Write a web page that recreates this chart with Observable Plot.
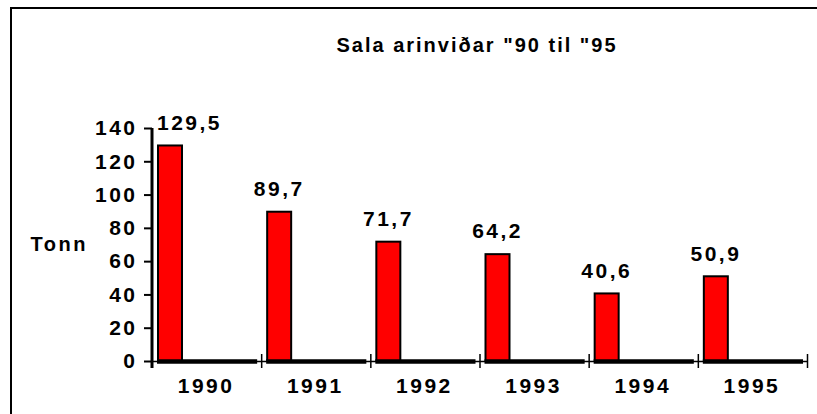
<!DOCTYPE html>
<html>
<head>
<meta charset="utf-8">
<script src="https://cdn.jsdelivr.net/npm/d3@7"></script>
<script src="https://cdn.jsdelivr.net/npm/@observablehq/plot@0.6"></script>
<style>
html, body { margin: 0; padding: 0; background: #fff; overflow: hidden; width: 817px; height: 414px; }
#wrap { position: relative; width: 817px; height: 414px; overflow: hidden; }
#border { position: absolute; left: 10px; top: 7px; width: 900px; height: 500px; border-left: 2px solid #000; border-top: 2px solid #000; }
#title { position: absolute; left: 477px; top: 35px; transform: translateX(-50%); white-space: nowrap;
  font: bold 20px "Liberation Sans", Arial, sans-serif; line-height: 20px; letter-spacing: 2px; color: #000; }
#chart { position: absolute; left: 0; top: 0; z-index: 2; }
</style>
</head>
<body>
<div id="wrap">
  <div id="border"></div>
  <div id="title"></div>
  <div id="chart"></div>
</div>
<script>
const titleText = 'Sala arinviðar "90 til "95';
const yLabel = "Tonn";
const years = ["1990", "1991", "1992", "1993", "1994", "1995"];
const tonn = [129.5, 89.7, 71.7, 64.2, 40.6, 50.9];
const valueLabels = ["129,5", "89,7", "71,7", "64,2", "40,6", "50,9"];
const yTicks = [0, 20, 40, 60, 80, 100, 120, 140];

document.getElementById("title").textContent = titleText;

const W = 817, H = 414, mL = 152, mR = 10, mT = 128, mB = 53;
const bw = (W - mL - mR) / years.length;
const data = years.map((y, i) => ({year: y, value: tonn[i], label: valueLabels[i]}));
const yMax = yTicks[yTicks.length - 1];
const numStyle = {fontSize: 21, fontWeight: "bold"};

const chart = Plot.plot({
  width: W, height: H,
  marginLeft: mL, marginRight: mR, marginTop: mT, marginBottom: mB,
  style: {
    fontFamily: '"Liberation Sans", Arial, sans-serif',
    fontSize: "20px", fontWeight: "bold", color: "#000",
    background: "transparent", overflow: "visible", letterSpacing: "2.5px"
  },
  x: {type: "band", domain: years, padding: 0, round: false, label: null},
  y: {domain: [0, yMax], label: null},
  marks: [
    Plot.barY(data, {x: "year", y: "value", fill: "#ff0000", stroke: "#000", strokeWidth: 2,
      insetLeft: 6, insetRight: bw - 30}),
    Plot.ruleY([0], {stroke: "#000", strokeWidth: 1.5}),
    Plot.tickY(data, {x: "year", y: () => 0, stroke: "#000", strokeWidth: 4.5, insetLeft: 5, insetRight: 4}),
    Plot.ruleX(years.slice(1), {x: d => d, y1: () => 0, y2: () => 0, insetTop: -7, insetBottom: -7, dx: -bw / 2, stroke: "#000", strokeWidth: 1.5}),
    Plot.ruleX(years.slice(-1), {x: d => d, y1: () => 0, y2: () => 0, insetTop: -7, insetBottom: -7, dx: bw / 2, stroke: "#000", strokeWidth: 1.5}),
    Plot.barY(years.slice(0, 1), {x: d => d, y: () => yMax, fill: "#000", insetLeft: -1.5, insetRight: bw - 1.5, insetBottom: -7}),
    Plot.axisY(yTicks, {tickSize: 8, tickPadding: 7, strokeWidth: 2, ...numStyle}),
    Plot.axisX({tickSize: 0, tickPadding: 17, dx: -1, ...numStyle}),
    Plot.text([yLabel], {frameAnchor: "left", dx: -122, textAnchor: "start", fontSize: 20, fontWeight: "bold", style: "letter-spacing:1.5px"}),
    Plot.text(data.slice(0, 1), {x: "year", y: "value", text: "label", dy: -23, dx: -17.6, ...numStyle}),
    Plot.text(data.slice(1), {x: "year", y: "value", text: "label", dy: -23, dx: -37, ...numStyle})
  ]
});
document.getElementById("chart").appendChild(chart);
</script>
</body>
</html>
